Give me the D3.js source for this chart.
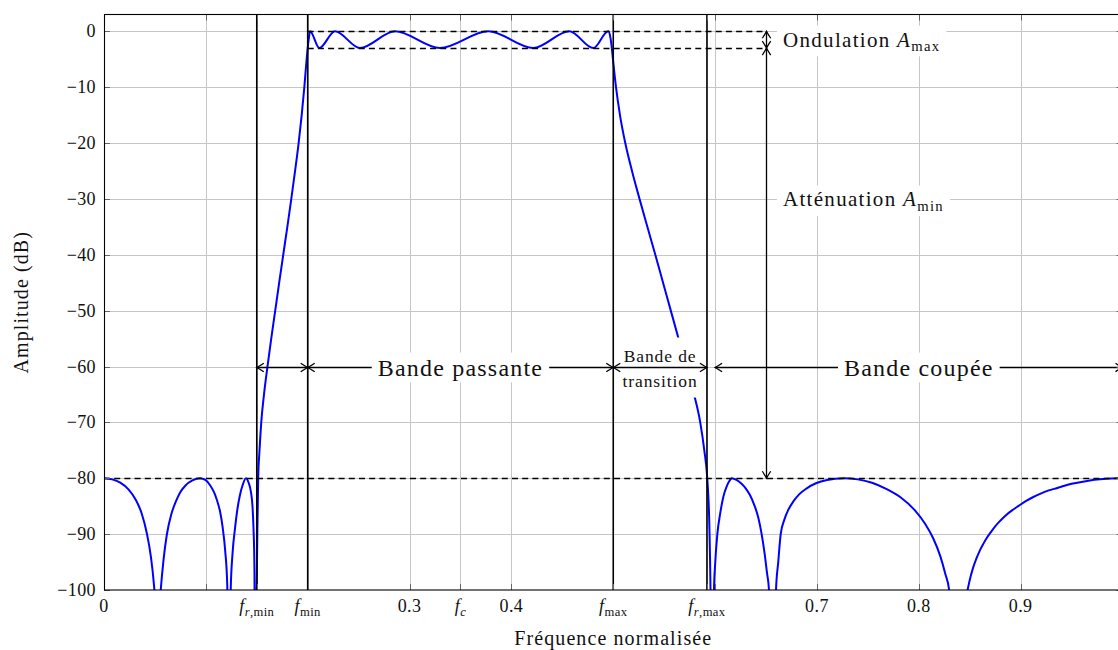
<!DOCTYPE html>
<html><head><meta charset="utf-8">
<script src="https://cdn.jsdelivr.net/npm/d3@7"></script>
<style>
body{margin:0;background:#fff;}
</style></head><body>
<svg id="chart" width="1118" height="650"></svg>
<script>
// ---------------- data ----------------
const freq = [
 0,0.008,0.016,0.024,0.031,0.037,0.042,0.046,0.049,0.0505,0.0525,
 0.0545,0.0557,0.0585,0.0616,0.066,0.0705,0.0746,0.080,0.0868,0.0943,
 0.0995,0.104,0.108,0.1107,0.114,0.1165,0.119,0.121,0.1229,
 0.1244,0.1262,0.1286,0.131,0.1335,0.136,0.1394,
 0.142,0.1443,0.1458,0.1468,0.1477,0.1486,
 0.1499,0.1507,0.1514,0.1527,0.1544,0.1571,0.1605,0.1642,0.1681,0.1720,0.1760,0.1800,0.1839,0.1876,0.1911,0.1941,0.1967,0.1985,0.2000,0.2013,0.2023,
 0.2114,0.2268,0.2513,0.2857,0.3299,0.3773,0.4215,0.4569,0.4804,0.4951,
 0.4971,0.4986,0.4997,0.5027,0.5066,0.5118,0.5184,0.5258,0.5335,0.5413,0.5489,0.5565,0.5641,0.5716,0.5793,0.5854,0.5894,0.5923,0.5943,0.5955,0.5972,
 0.5989,0.6000,0.6022,0.6050,0.6081,0.6115,0.6140,0.6163,
 0.6210,0.6260,0.6300,0.6342,0.6385,0.6425,0.6457,0.6485,0.6510,0.6529,0.6564,
 0.6598,0.6620,0.6644,0.6680,0.6720,0.6770,0.6830,0.6900,0.6990,0.7100,0.7259,
 0.7400,0.7540,0.7680,0.7820,0.7960,0.8060,0.8140,0.8210,0.8260,0.8298,0.8395,
 0.8445,0.8486,0.8510,0.8535,0.8565,0.8600,0.8635,0.8667,0.8705,0.8750,0.8800,0.8850,0.8915,0.8984,0.9050,0.9120,0.9190,0.9256,0.9330,0.9420,0.9500,0.9583,0.9680,0.9780,0.9890,1.0];
const amplitude = [
 -80,-80.2,-80.8,-82.0,-83.8,-86.3,-89.8,-94,-99,-103,-140,
 -103,-100,-94.5,-90.2,-86.5,-84.2,-82.6,-81.3,-80.4,-80,
 -80.3,-81.2,-82.5,-83.8,-86,-88.8,-93,-99,-140,
 -100,-93.5,-89,-85.5,-83,-81.3,-80,
 -80.8,-82.5,-85,-89,-96,-140,
 -100,-88,-80,-75,-70,-65,-60,-55,-50,-45,-40,-35,-30,-25,-20,-15,-10,-6,-3,-1,0,
 -3,0,-3,0,-3,0,-3,0,-3,0,
 -1,-3,-5,-10,-15,-20,-25,-30,-35,-40,-45,-50,-55,-60,-65,-70,-75,-80,-88,-100,-140,
 -100,-95.5,-90,-86.3,-83.3,-81.4,-80.5,-80,
 -80.3,-81.0,-81.8,-83,-84.8,-87.1,-90,-93.3,-97,-100,-140,
 -100,-95,-90,-87.4,-85.6,-84.1,-82.8,-81.8,-80.9,-80.3,-80,
 -80.2,-80.8,-81.9,-83.4,-85.7,-88.1,-90.7,-93.9,-97.1,-100,-140,
 -104,-99.4,-97.5,-95.9,-94.4,-92.9,-91.7,-90.7,-89.7,-88.6,-87.6,-86.7,-85.75,-84.9,-84.1,-83.4,-82.8,-82.3,-81.9,-81.4,-81.0,-80.7,-80.4,-80.2,-80.05,-80];

const yTickValues = [0,-10,-20,-30,-40,-50,-60,-70,-80,-90,-100];
const xGridValues = [0.1,0.15,0.2,0.3,0.35,0.4,0.5,0.592,0.6,0.7,0.8,0.9];
const xTickValues = [0,0.15,0.2,0.3,0.35,0.4,0.5,0.592,0.7,0.8,0.9];
const xTickLabels = ["0","$f_{r,min}$","$f_{min}$","0.3","$f_c$","0.4","$f_{max}$","$f_{r,max}$","0.7","0.8","0.9"];
const markerFreqs = [0.15,0.2,0.5,0.592];     // f_r,min, f_min, f_max, f_r,max
const rippleLevels = [0,-3];                 // A_max band
const stopLevel = -80;                       // A_min
const bandArrows = [[0.15,0.2],[0.2,0.5],[0.5,0.592],[0.6,1.0]];
const bandArrowLevel = -60;
const attenX = 0.65;
const xLabel = "Fréquence normalisée";
const yLabel = "Amplitude (dB)";

// ---------------- setup ----------------
const FONT = "'Liberation Serif','Tinos','DejaVu Serif','Noto Serif',serif";
const svg = d3.select("#chart").attr("font-family",FONT);
const x = d3.scaleLinear().domain([0,1]).range([104,1122.5]);
const y = d3.scaleLinear().domain([-100,3]).range([590,14.5]);
const X0 = x(0), X1 = x(1), Y0 = y(-100), Y1 = y(3);
const px = v => Math.round(v) + 0.5;
const TXT = "#111";

svg.append("rect").attr("width",1118).attr("height",650).attr("fill","#fff");
svg.append("defs").append("clipPath").attr("id","plotclip")
  .append("rect").attr("x",X0).attr("y",Y1).attr("width",X1-X0).attr("height",Y0-Y1);

function rich(t, str, size){
  const segs = str.split("$");
  let shift = 0;
  segs.forEach((seg,i)=>{
    if(!seg) return;
    if(i%2===0){
      const ts = t.append("tspan").text(seg);
      if(shift){ ts.attr("dy",-shift); shift=0; }
    } else {
      const parts = seg.split("_");
      const base = t.append("tspan").attr("font-style","italic").text(parts[0]);
      if(shift){ base.attr("dy",-shift); shift=0; }
      if(parts[1]){
        const sub = parts[1].replace(/[{}]/g,"");
        const toks = sub.match(/[a-z]+|[^a-z]+/g);
        toks.forEach((tk,j)=>{
          const ts = t.append("tspan").attr("font-size",size*0.7).text(tk);
          if(tk.length===1 && /[a-z]/.test(tk)) ts.attr("font-style","italic");
          if(j===0){ ts.attr("dy",size*0.22); shift=size*0.22; }
        });
      }
    }
  });
  return t;
}

// ---------------- grid ----------------
const grid = svg.append("g").attr("stroke","#c6c6c6").attr("stroke-width",1);
grid.selectAll(".gx").data(xGridValues).join("line")
  .attr("x1",d=>px(x(d))).attr("x2",d=>px(x(d))).attr("y1",Y1).attr("y2",Y0);
grid.selectAll(".gy").data(yTickValues.filter(v=>v>-100)).join("line")
  .attr("x1",X0).attr("x2",X1).attr("y1",d=>px(y(d))).attr("y2",d=>px(y(d)));

// ---------------- curve ----------------
const pts = freq.map((f,i)=>[f,amplitude[i]]);
svg.append("path").datum(pts)
  .attr("clip-path","url(#plotclip)")
  .attr("fill","none").attr("stroke","#0000ff").attr("stroke-width",2)
  .attr("stroke-linejoin","round")
  .attr("d", d3.line().x(d=>x(d[0])).y(d=>y(d[1])).curve(d3.curveMonotoneX));

// ---------------- dashed lines ----------------
const dash = svg.append("g").attr("stroke","#000").attr("stroke-width",1.3).attr("stroke-dasharray","6,4.2");
rippleLevels.forEach(l=>{
  dash.append("line").attr("x1",x(0.2)).attr("x2",x(attenX)).attr("y1",px(y(l))).attr("y2",px(y(l)));
});
dash.append("line").attr("x1",X0).attr("x2",X1).attr("y1",px(y(stopLevel))).attr("y2",px(y(stopLevel)));

// ---------------- marker verticals ----------------
svg.append("g").attr("stroke","#000").attr("stroke-width",1.6)
  .selectAll("line").data(markerFreqs).join("line")
  .attr("x1",d=>x(d)).attr("x2",d=>x(d)).attr("y1",Y1).attr("y2",Y0);

// ---------------- arrows ----------------
function head(g, tx, ty, ux, uy){
  const L=7, w=4.2, pxv=-uy, pyv=ux;
  const b1=[tx-L*ux+w*pxv, ty-L*uy+w*pyv], b2=[tx-L*ux-w*pxv, ty-L*uy-w*pyv];
  const c1=[tx-2.5*ux+1.2*pxv, ty-2.5*uy+1.2*pyv], c2=[tx-2.5*ux-1.2*pxv, ty-2.5*uy-1.2*pyv];
  g.append("path").attr("fill","none").attr("stroke","#000").attr("stroke-width",1.3)
   .attr("d",`M${b1[0]},${b1[1]} Q${c1[0]},${c1[1]} ${tx},${ty} Q${c2[0]},${c2[1]} ${b2[0]},${b2[1]}`);
}
function dblArrow(g, xa, ya, xb, yb){
  g.append("line").attr("x1",xa).attr("y1",ya).attr("x2",xb).attr("y2",yb)
   .attr("stroke","#000").attr("stroke-width",1.3);
  const len=Math.hypot(xb-xa,yb-ya), ux=(xb-xa)/len, uy=(yb-ya)/len;
  head(g,xb,yb,ux,uy); head(g,xa,ya,-ux,-uy);
}
const FS_T = 17.5;
const transG = svg.append("g");
const arrows = svg.append("g");
const ya = px(y(bandArrowLevel));
bandArrows.forEach(([a,b])=> dblArrow(arrows, x(a), ya, x(b), ya));
dblArrow(arrows, px(x(attenX)), y(rippleLevels[0]), px(x(attenX)), y(rippleLevels[1]));
dblArrow(arrows, px(x(attenX)), y(rippleLevels[1]), px(x(attenX)), y(stopLevel));

// transition labels
{
  const cx = (x(0.5)+x(0.592))/2;
  transG.append("rect").attr("x",x(0.5)+2).attr("width",x(0.592)-x(0.5)-4)
    .attr("y",ya-30).attr("height",60).attr("fill","#fff");
  const tg = svg.append("g").attr("font-size",FS_T).attr("letter-spacing",0.9).attr("text-anchor","middle").attr("fill",TXT);
  tg.append("text").attr("x",cx).attr("y",ya-6).text("Bande de");
  tg.append("text").attr("x",cx).attr("y",ya+19).text("transition");
}

// labelled nodes with white background
function node(str, xx, yy, size, ls, anchor){
  const g = svg.append("g");
  const t = g.append("text").attr("x",xx).attr("y",yy).attr("font-size",size)
    .attr("letter-spacing",ls).attr("text-anchor",anchor).attr("fill",TXT);
  rich(t,str,size);
  const bb = t.node().getBBox();
  const pad = 6;
  g.insert("rect","text").attr("x",bb.x-pad).attr("y",bb.y-2).attr("width",bb.width+2*pad)
   .attr("height",bb.height+4).attr("fill","#fff");
}
node("Bande passante", (x(0.2)+x(0.5))/2, ya+8, 24, 1.2, "middle");
node("Bande coupée", (x(0.6)+x(1.0))/2, ya+8, 24, 1.2, "middle");
node("Ondulation $A_{max}$", x(attenX)+17, y(-1.5)+7, 21, 1.3, "start");
node("Atténuation $A_{min}$", x(attenX)+17, y(-30)+7.5, 21, 1.3, "start");

// ---------------- frame & ticks ----------------
const tk = svg.append("g").attr("stroke","#666").attr("stroke-width",1);
xTickValues.filter(v=>v>0).concat([0.1,0.6]).forEach(v=>{
  tk.append("line").attr("x1",px(x(v))).attr("x2",px(x(v))).attr("y1",Y0).attr("y2",Y0-6);
  tk.append("line").attr("x1",px(x(v))).attr("x2",px(x(v))).attr("y1",Y1).attr("y2",Y1+6);
});
yTickValues.forEach(v=>{
  tk.append("line").attr("x1",X0).attr("x2",X0+6).attr("y1",px(y(v))).attr("y2",px(y(v)));
  tk.append("line").attr("x1",X1).attr("x2",X1-6).attr("y1",px(y(v))).attr("y2",px(y(v)));
});
svg.append("rect").attr("x",X0+0.5).attr("y",Y1).attr("width",X1-X0).attr("height",Y0-Y1)
  .attr("fill","none").attr("stroke","#000").attr("stroke-width",1.1);

// tick labels
const tl = svg.append("g").attr("font-size",18).attr("fill",TXT).attr("letter-spacing",0.4);
yTickValues.forEach(v=>{
  tl.append("text").attr("x",X0-8).attr("y",y(v)+6).attr("text-anchor","end")
    .text(v<0 ? "\u2212"+Math.abs(v) : String(v));
});
xTickValues.forEach((v,i)=>{
  const t = tl.append("text").attr("x",x(v)).attr("y",Y0+22).attr("text-anchor","middle");
  rich(t, xTickLabels[i], 18);
});

// axis labels
svg.append("text").attr("x",(X0+X1)/2).attr("y",645).attr("text-anchor","middle")
  .attr("font-size",20).attr("letter-spacing",1.1).attr("fill",TXT).text(xLabel);
svg.append("text").attr("transform",`translate(28,${(Y0+Y1)/2}) rotate(-90)`).attr("text-anchor","middle")
  .attr("font-size",20).attr("letter-spacing",1.1).attr("fill",TXT).text(yLabel);
</script>
</body></html>
